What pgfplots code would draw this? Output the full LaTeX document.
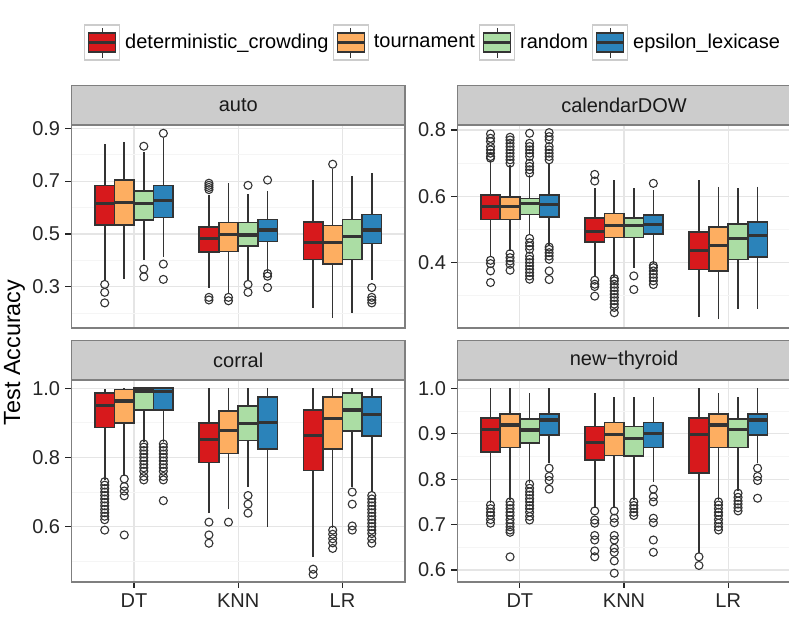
\documentclass[border=0pt]{standalone}
\usepackage{fontspec}
\setmainfont{Liberation Sans}
\usepackage{pgfplots}
\pgfplotsset{compat=1.18}
\usepgfplotslibrary{statistics}

\definecolor{cRed}{HTML}{D7191C}
\definecolor{cOrange}{HTML}{FDAE61}
\definecolor{cGreen}{HTML}{ABDDA4}
\definecolor{cBlue}{HTML}{2B83BA}
\definecolor{boxline}{HTML}{333333}
\definecolor{border}{HTML}{7F7F7F}
\definecolor{strip}{HTML}{CCCCCC}

\pgfplotsset{
  panel/.style={
    scale only axis, width=166.75pt,
    xmin=0.4, xmax=3.6, xtick={1,2,3},
    axis line style={draw=border, line width=0.6pt},
    tick align=outside, xtick pos=bottom, ytick pos=left,
    major tick length=3pt, minor tick length=0pt,
    tick style={draw=black!85, line width=0.6pt},
    xmajorgrids, ymajorgrids, yminorgrids,
    major grid style={draw=black!10, line width=0.6pt},
    minor grid style={draw=black!4, line width=0.4pt},
    tick label style={font=\fontsize{10}{12}\selectfont, text=black!85},
    yticklabel style={inner xsep=2.5pt},
    xticklabel style={inner ysep=2.5pt},
    /pgf/number format/fixed, /pgf/number format/fixed zerofill,
    /pgf/number format/precision=1, /pgf/number format/assume math mode=true,
    every axis title/.style={at={(0.5,1)}, anchor=south, fill=strip, draw=border,
      line width=0.6pt, minimum width=166.75pt, minimum height=19.5pt, inner sep=0pt,
      font=\fontsize{10}{12}\selectfont, text=black!90},
  },
  toprow/.style={panel, height=101.5pt, xmajorticks=false, xticklabels={}},
  botrow/.style={panel, height=100.85pt, xticklabels={DT,KNN,LR}},
  bxstyle/.style={forget plot, draw=boxline, line width=0.8pt,
    mark=o, mark size=2pt, mark options={line width=0.55pt, draw=boxline, fill=none},
    boxplot/draw direction=y,
    boxplot/box extend=0.1875, boxplot/whisker extend=0,
    boxplot/every median/.style={line width=1.6pt}},
  boxkey/.style={legend image code/.code={
    \draw[draw=strip, fill=white, line width=0.6pt] (0pt,-8.75pt) rectangle (17.5pt,8.75pt);
    \draw[draw=boxline, line width=0.6pt] (8.75pt,-7.5pt) -- (8.75pt,7.5pt);
    \draw[draw=boxline, fill=#1, line width=0.6pt] (2pt,-4.75pt) rectangle (15.5pt,4.75pt);
    \draw[draw=boxline, line width=1.2pt] (2pt,0pt) -- (15.5pt,0pt);
  }},
}

% position, lower whisker, lower quartile, median, upper quartile, upper whisker, fill, outliers
\newcommand{\bx}[8]{\addplot[bxstyle, fill=#7, boxplot prepared={draw position=#1,
  lower whisker=#2, lower quartile=#3, median=#4, upper quartile=#5, upper whisker=#6}]
  coordinates {#8};}

\begin{document}
\begin{tikzpicture}
\useasboundingbox (0,0) rectangle (394.5pt,320.5pt);

% ---- auto
\begin{axis}[toprow, at={(35.75pt,156.5pt)}, anchor=south west,
  title={auto}, ymin=0.144, ymax=0.9125,
  ytick={0.3,0.5,0.7,0.9}, minor ytick={0.2,0.4,0.6,0.8},
  legend style={at={(1.081,1.406)}, anchor=center, draw=none, fill=none,
    legend columns=4, font=\fontsize{10}{12}\selectfont, inner sep=0pt,
    nodes={inner sep=0pt},
    /tikz/every odd column/.append style={column sep=2.5pt},
    /tikz/every even column/.append style={column sep=2pt}}]
\addlegendimage{boxkey=cRed}\addlegendentry{deterministic\_crowding}
\addlegendimage{boxkey=cOrange}\addlegendentry{tournament}
\addlegendimage{boxkey=cGreen}\addlegendentry{random}
\addlegendimage{boxkey=cBlue}\addlegendentry{epsilon\_lexicase}
\bx{0.71875}{0.325}{0.534}{0.616}{0.683}{0.841}{cRed}{(0,0.309) (0,0.279) (0,0.239)}
\bx{0.90625}{0.328}{0.534}{0.618}{0.704}{0.849}{cOrange}{}
\bx{1.09375}{0.401}{0.553}{0.616}{0.663}{0.812}{cGreen}{(0,0.832) (0,0.367) (0,0.338)}
\bx{1.28125}{0.414}{0.563}{0.626}{0.683}{0.862}{cBlue}{(0,0.881) (0,0.386) (0,0.328)}
\bx{1.71875}{0.297}{0.431}{0.483}{0.527}{0.647}{cRed}{(0,0.692) (0,0.684) (0,0.676) (0,0.668) (0,0.260) (0,0.250)}
\bx{1.90625}{0.275}{0.434}{0.498}{0.543}{0.692}{cOrange}{(0,0.260) (0,0.247)}
\bx{2.09375}{0.325}{0.455}{0.496}{0.543}{0.651}{cGreen}{(0,0.684) (0,0.309) (0,0.279)}
\bx{2.28125}{0.357}{0.472}{0.515}{0.555}{0.663}{cBlue}{(0,0.704) (0,0.350) (0,0.340) (0,0.297)}
\bx{2.71875}{0.218}{0.404}{0.467}{0.545}{0.704}{cRed}{}
\bx{2.90625}{0.180}{0.386}{0.467}{0.532}{0.745}{cOrange}{(0,0.764)}
\bx{3.09375}{0.199}{0.404}{0.489}{0.555}{0.721}{cGreen}{}
\bx{3.28125}{0.325}{0.464}{0.515}{0.574}{0.729}{cBlue}{(0,0.297) (0,0.260) (0,0.250) (0,0.239)}
\end{axis}

% ---- calendarDOW
\begin{axis}[toprow, at={(228.65pt,156.5pt)}, anchor=south west,
  title={calendarDOW}, ymin=0.203, ymax=0.815,
  ytick={0.4,0.6,0.8}, minor ytick={0.3,0.5,0.7}]
\bx{0.71875}{0.417}{0.530}{0.570}{0.604}{0.709}{cRed}{(0,0.788) (0,0.775) (0,0.765) (0,0.750) (0,0.740) (0,0.730) (0,0.720) (0,0.715) (0,0.407) (0,0.397) (0,0.375) (0,0.340)}
\bx{0.90625}{0.435}{0.530}{0.570}{0.598}{0.694}{cOrange}{(0,0.778) (0,0.770) (0,0.760) (0,0.750) (0,0.740) (0,0.730) (0,0.720) (0,0.710) (0,0.700) (0,0.427) (0,0.415) (0,0.405) (0,0.395) (0,0.377)}
\bx{1.09375}{0.483}{0.545}{0.578}{0.593}{0.664}{cGreen}{(0,0.790) (0,0.760) (0,0.750) (0,0.740) (0,0.730) (0,0.720) (0,0.700) (0,0.690) (0,0.680) (0,0.670) (0,0.473) (0,0.460) (0,0.450) (0,0.440) (0,0.420) (0,0.410) (0,0.400) (0,0.390) (0,0.380) (0,0.370) (0,0.360) (0,0.350)}
\bx{1.28125}{0.452}{0.538}{0.576}{0.604}{0.700}{cBlue}{(0,0.792) (0,0.780) (0,0.770) (0,0.750) (0,0.740) (0,0.730) (0,0.720) (0,0.710) (0,0.447) (0,0.440) (0,0.430) (0,0.420) (0,0.410) (0,0.375) (0,0.349)}
\bx{1.71875}{0.357}{0.462}{0.495}{0.535}{0.624}{cRed}{(0,0.666) (0,0.646) (0,0.347) (0,0.335) (0,0.328) (0,0.299)}
\bx{1.90625}{0.357}{0.476}{0.511}{0.548}{0.649}{cOrange}{(0,0.352) (0,0.345) (0,0.335) (0,0.325) (0,0.315) (0,0.305) (0,0.295) (0,0.285) (0,0.275) (0,0.265) (0,0.249)}
\bx{2.09375}{0.385}{0.476}{0.511}{0.535}{0.624}{cGreen}{(0,0.360) (0,0.319)}
\bx{2.28125}{0.397}{0.486}{0.516}{0.543}{0.619}{cBlue}{(0,0.639) (0,0.391) (0,0.385) (0,0.375) (0,0.365) (0,0.355) (0,0.345) (0,0.334)}
\bx{2.71875}{0.236}{0.379}{0.437}{0.493}{0.649}{cRed}{}
\bx{2.90625}{0.229}{0.374}{0.452}{0.508}{0.629}{cOrange}{}
\bx{3.09375}{0.261}{0.409}{0.473}{0.516}{0.624}{cGreen}{}
\bx{3.28125}{0.261}{0.417}{0.481}{0.523}{0.629}{cBlue}{}
\end{axis}

% ---- corral
\begin{axis}[botrow, at={(35.75pt,29.5pt)}, anchor=south west,
  title={corral}, ymin=0.44, ymax=1.0231,
  ytick={0.6,0.8,1.0}, minor ytick={0.5,0.7,0.9}]
\bx{0.71875}{0.735}{0.887}{0.950}{0.987}{0.997}{cRed}{(0,0.730) (0,0.720) (0,0.710) (0,0.700) (0,0.690) (0,0.680) (0,0.670) (0,0.660) (0,0.650) (0,0.640) (0,0.630) (0,0.620) (0,0.590)}
\bx{0.90625}{0.745}{0.900}{0.963}{0.997}{1.000}{cOrange}{(0,0.738) (0,0.716) (0,0.703) (0,0.689) (0,0.576)}
\bx{1.09375}{0.846}{0.937}{0.992}{1.000}{1.000}{cGreen}{(0,0.839) (0,0.830) (0,0.820) (0,0.810) (0,0.800) (0,0.790) (0,0.780) (0,0.770) (0,0.760) (0,0.745) (0,0.735)}
\bx{1.28125}{0.846}{0.937}{0.990}{1.000}{1.000}{cBlue}{(0,0.839) (0,0.830) (0,0.820) (0,0.810) (0,0.800) (0,0.790) (0,0.780) (0,0.770) (0,0.760) (0,0.745) (0,0.735) (0,0.675)}
\bx{1.71875}{0.639}{0.786}{0.853}{0.899}{1.000}{cRed}{(0,0.613) (0,0.576) (0,0.552)}
\bx{1.90625}{0.650}{0.812}{0.877}{0.935}{1.000}{cOrange}{(0,0.613)}
\bx{2.09375}{0.716}{0.849}{0.899}{0.949}{1.000}{cGreen}{(0,0.690) (0,0.665) (0,0.639)}
\bx{2.28125}{0.600}{0.825}{0.902}{0.974}{1.000}{cBlue}{}
\bx{2.71875}{0.513}{0.762}{0.863}{0.937}{1.000}{cRed}{(0,0.477) (0,0.462)}
\bx{2.90625}{0.595}{0.825}{0.913}{0.974}{1.000}{cOrange}{(0,0.590) (0,0.578) (0,0.565) (0,0.553) (0,0.537)}
\bx{3.09375}{0.716}{0.877}{0.937}{0.987}{1.000}{cGreen}{(0,0.700) (0,0.665) (0,0.602) (0,0.590)}
\bx{3.28125}{0.700}{0.862}{0.925}{0.974}{1.000}{cBlue}{(0,0.690) (0,0.680) (0,0.670) (0,0.660) (0,0.650) (0,0.640) (0,0.630) (0,0.620) (0,0.610) (0,0.600) (0,0.590) (0,0.580) (0,0.565) (0,0.552)}
\end{axis}

% ---- new-thyroid
\begin{axis}[botrow, at={(228.65pt,29.5pt)}, anchor=south west,
  title={new−thyroid}, ymin=0.5736, ymax=1.0176,
  ytick={0.6,0.7,0.8,0.9,1.0}, minor ytick={0.65,0.75,0.85,0.95}]
\bx{0.71875}{0.747}{0.860}{0.910}{0.934}{1.000}{cRed}{(0,0.743) (0,0.735) (0,0.727) (0,0.720) (0,0.711) (0,0.703)}
\bx{0.90625}{0.753}{0.870}{0.919}{0.943}{1.000}{cOrange}{(0,0.750) (0,0.743) (0,0.735) (0,0.727) (0,0.720) (0,0.711) (0,0.703) (0,0.695) (0,0.688) (0,0.683) (0,0.629)}
\bx{1.09375}{0.792}{0.879}{0.908}{0.933}{0.989}{cGreen}{(0,0.789) (0,0.780) (0,0.772) (0,0.765) (0,0.757) (0,0.750) (0,0.742) (0,0.735) (0,0.727) (0,0.718) (0,0.710)}
\bx{1.28125}{0.835}{0.897}{0.930}{0.943}{1.000}{cBlue}{(0,0.824) (0,0.806) (0,0.797) (0,0.778)}
\bx{1.71875}{0.736}{0.842}{0.881}{0.916}{0.989}{cRed}{(0,0.730) (0,0.710) (0,0.703) (0,0.676) (0,0.666) (0,0.642) (0,0.629)}
\bx{1.90625}{0.736}{0.852}{0.899}{0.925}{0.980}{cOrange}{(0,0.730) (0,0.714) (0,0.704) (0,0.676) (0,0.666) (0,0.648) (0,0.639) (0,0.620) (0,0.593)}
\bx{2.09375}{0.754}{0.851}{0.890}{0.916}{0.980}{cGreen}{(0,0.750) (0,0.742) (0,0.735) (0,0.727) (0,0.720)}
\bx{2.28125}{0.794}{0.870}{0.900}{0.925}{0.980}{cBlue}{(0,0.778) (0,0.761) (0,0.750) (0,0.714) (0,0.704) (0,0.666) (0,0.639)}
\bx{2.71875}{0.637}{0.813}{0.899}{0.934}{1.000}{cRed}{(0,0.629) (0,0.610)}
\bx{2.90625}{0.754}{0.870}{0.919}{0.943}{0.989}{cOrange}{(0,0.750) (0,0.743) (0,0.735) (0,0.727) (0,0.720) (0,0.711) (0,0.703) (0,0.695) (0,0.688)}
\bx{3.09375}{0.774}{0.870}{0.910}{0.933}{0.980}{cGreen}{(0,0.769) (0,0.760) (0,0.752) (0,0.745) (0,0.737) (0,0.730)}
\bx{3.28125}{0.835}{0.897}{0.930}{0.943}{1.000}{cBlue}{(0,0.824) (0,0.806) (0,0.797) (0,0.758)}
\end{axis}

\node[rotate=90, font=\fontsize{11.7}{14}\selectfont] at (7.25pt,144.25pt) {Test Accuracy};
\end{tikzpicture}
\end{document}
